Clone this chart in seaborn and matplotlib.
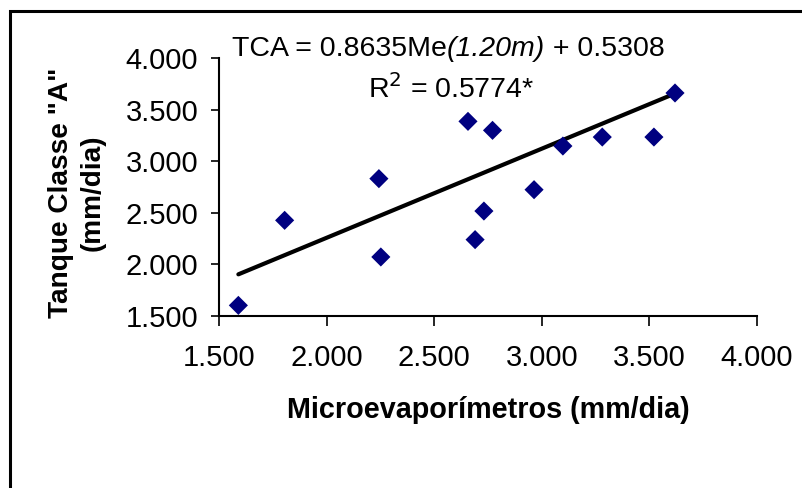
import numpy as np
import pandas as pd
import matplotlib
matplotlib.use("Agg")
import matplotlib.pyplot as plt
import seaborn as sns
from matplotlib.patches import Rectangle

# leituras: microevaporímetros (x) vs tanque classe "A" (y), mm/dia
me = [1.59, 1.805, 2.243, 2.252, 2.657, 2.771, 2.690, 2.731, 2.964, 3.098, 3.281, 3.521, 3.619]
tca = [1.603, 2.427, 2.831, 2.072, 3.386, 3.299, 2.240, 2.517, 2.724, 3.147, 3.234, 3.234, 3.661]
slope = 0.8635
intercept = 0.5308
ticks = [1.5, 2.0, 2.5, 3.0, 3.5, 4.0]
tick_labels = ["1.500", "2.000", "2.500", "3.000", "3.500", "4.000"]

df = pd.DataFrame({"Me": me, "TCA": tca})
x_fit = np.array([min(me), max(me)])
fit = pd.DataFrame({"Me": x_fit, "TCA": slope * x_fit + intercept})

sns.set_style("white")
plt.rcParams["font.family"] = ["Liberation Sans", "DejaVu Sans"]
plt.rcParams["text.color"] = "black"
plt.rcParams["xtick.color"] = "black"
plt.rcParams["ytick.color"] = "black"
plt.rcParams["axes.labelcolor"] = "black"

fig = plt.figure(figsize=(8.03, 4.88), dpi=100)
ax = fig.add_axes([219 / 803, 1 - 316 / 488, 538 / 803, 258 / 488])

sns.lineplot(data=fit, x="Me", y="TCA", color="black", linewidth=3, ax=ax)
sns.scatterplot(data=df, x="Me", y="TCA", marker="D", color="#000080",
                s=95, edgecolor="none", ax=ax, zorder=3)

ax.set_xlim(1.5, 4.0)
ax.set_ylim(1.5, 4.0)
ax.set_xticks(ticks)
ax.set_xticklabels(tick_labels)
ax.set_yticks(ticks)
ax.set_yticklabels(tick_labels)
ax.set_xlabel("")
ax.set_ylabel("")
ax.tick_params(axis="x", length=7, width=1.2, pad=13, labelsize=21, direction="out", bottom=True)
ax.tick_params(axis="y", length=6, width=1.2, pad=9, labelsize=21, direction="out", left=True)
sns.despine(ax=ax)
for sp in ["left", "bottom"]:
    ax.spines[sp].set_color("black")
    ax.spines[sp].set_linewidth(1.5)

# equação: partes normal / itálico / normal
fs = 20.5
t1 = fig.text(232 / 803, 1 - 62 / 488, "TCA = 0.8635Me", ha="left", va="bottom", fontsize=fs)
t2 = ax.annotate("(1.20m)", xy=(1, 0), xycoords=t1, ha="left", va="bottom",
                 fontsize=fs, fontstyle="italic", annotation_clip=False)
t3 = ax.annotate(" + 0.5308", xy=(1, 0), xycoords=t2, ha="left", va="bottom",
                 fontsize=fs, annotation_clip=False)
fig.text(451 / 803, 1 - 98 / 488, r"R$^2$ = 0.5774*",
         ha="center", va="baseline", fontsize=fs)

fig.text(488 / 803, 1 - 418 / 488, "Microevaporímetros (mm/dia)",
         ha="center", va="baseline", fontsize=20.7, fontweight="bold")
fig.text(77 / 803, 1 - 193 / 488, 'Tanque Classe "A"\n(mm/dia)',
         ha="center", va="center", rotation=90, fontsize=20.2, fontweight="bold",
         linespacing=1.3)

fig.patches.append(Rectangle((10 / 803, -0.1), 1.2, 1.1 - 11 / 488, transform=fig.transFigure,
                             fill=False, edgecolor="black", linewidth=2.2))

fig.savefig("out.png", dpi=100)
